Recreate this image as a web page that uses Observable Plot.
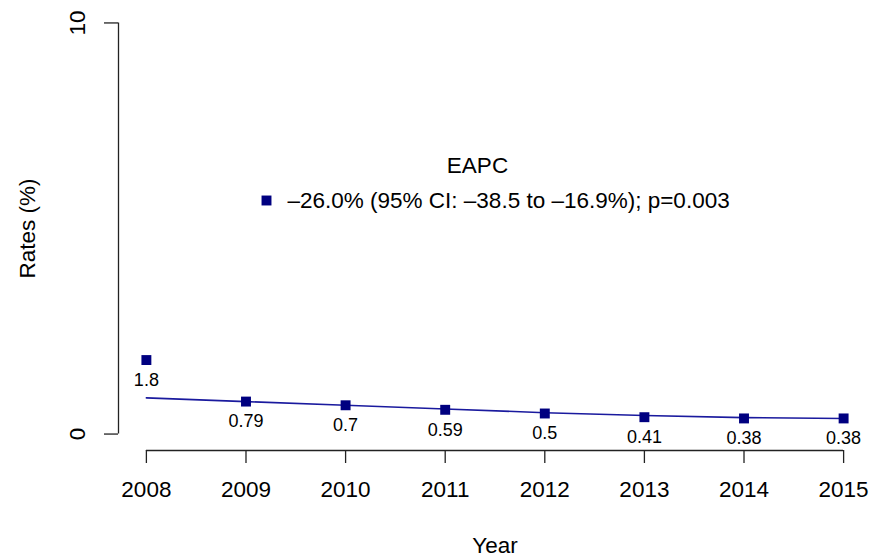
<!DOCTYPE html>
<html>
<head>
<meta charset="utf-8">
<script src="https://cdn.jsdelivr.net/npm/d3@7"></script>
<script src="https://cdn.jsdelivr.net/npm/@observablehq/plot@0.6"></script>
<style>
  html, body { margin: 0; padding: 0; background: #fff; }
</style>
</head>
<body>
<div id="chart"></div>
<script>
const years = [2008, 2009, 2010, 2011, 2012, 2013, 2014, 2015];
const rates = [1.8, 0.79, 0.7, 0.59, 0.5, 0.41, 0.38, 0.38];
const fitted = [0.88, 0.79, 0.70, 0.61, 0.52, 0.45, 0.40, 0.38];
const yTicks = [0, 10];
const xLabel = "Year";
const yLabel = "Rates (%)";
const legendTitle = "EAPC";
const legendLabel = "\u201326.0% (95% CI: \u201338.5 to \u201316.9%); p=0.003";

const pts = years.map((y, i) => ({year: y, rate: rates[i]}));
const fit = years.map((y, i) => ({year: y, value: fitted[i]}));

// R-style 4% axis extension
const xPad = (years[years.length - 1] - years[0]) * 0.04;
const xDomain = [years[0] - xPad, years[years.length - 1] + xPad];
const yPad = (yTicks[1] - yTicks[0]) * 0.04;
const yDomain = [yTicks[0] - yPad, yTicks[1] + yPad];

const navy = "#000080";
const font = "'Liberation Sans', Arial, Helvetica, sans-serif";

const chart = Plot.plot({
  width: 871,
  height: 558,
  marginLeft: 118,
  marginRight: 0,
  marginTop: 6,
  marginBottom: 108,
  style: {fontFamily: font, fontSize: "22.5px", background: "#fff", color: "#000"},
  x: {domain: xDomain, label: null},
  y: {domain: yDomain, label: null},
  marks: [
    // axes lines
    Plot.ruleX([xDomain[0]], {y1: yTicks[0], y2: yTicks[1], stroke: "#222", strokeWidth: 1.3}),
    Plot.ruleY([yDomain[0]], {x1: years[0], x2: years[years.length - 1], stroke: "#222", strokeWidth: 1.3}),
    Plot.axisX({ticks: years, tickFormat: d => String(d), tickSize: 13, tickPadding: 18,
      fontSize: 22.5, stroke: "#222", strokeWidth: 1.3, label: null}),
    Plot.axisY({ticks: yTicks, tickSize: 14, tickFormat: () => "", stroke: "#222", strokeWidth: 1.3, label: null}),
    Plot.text(yTicks, {frameAnchor: "left", y: d => d, text: d => String(d), rotate: -90, dx: -41,
      textAnchor: "middle", lineAnchor: "middle", fontSize: 22.5}),
    // axis titles
    Plot.text([yLabel], {frameAnchor: "left", rotate: -90, dx: -91, textAnchor: "middle", lineAnchor: "middle", fontSize: 22.5}),
    Plot.text([xLabel], {frameAnchor: "bottom", dy: 95, textAnchor: "middle", lineAnchor: "middle", fontSize: 22.5}),
    // fitted line
    Plot.line(fit, {x: "year", y: "value", stroke: "#1a1a9e", strokeWidth: 1.6}),
    // points
    Plot.dot(pts, {x: "year", y: "rate", symbol: "square", r: 5.6, fill: navy, stroke: "none"}),
    Plot.text(pts, {x: "year", y: "rate", text: d => String(d.rate), dy: 20, fontSize: 18}),
    // legend
    Plot.text([legendTitle], {frameAnchor: "top-left", dx: 359, dy: 159, fontSize: 22.5, textAnchor: "middle", lineAnchor: "middle"}),
    Plot.dot([legendLabel], {frameAnchor: "top-left", dx: 148, dy: 194, symbol: "square", r: 5.6, fill: navy, stroke: "none"}),
    Plot.text([legendLabel], {frameAnchor: "top-left", dx: 169, dy: 194, fontSize: 22.5, textAnchor: "start", lineAnchor: "middle"})
  ]
});
document.getElementById("chart").appendChild(chart);
</script>
</body>
</html>
